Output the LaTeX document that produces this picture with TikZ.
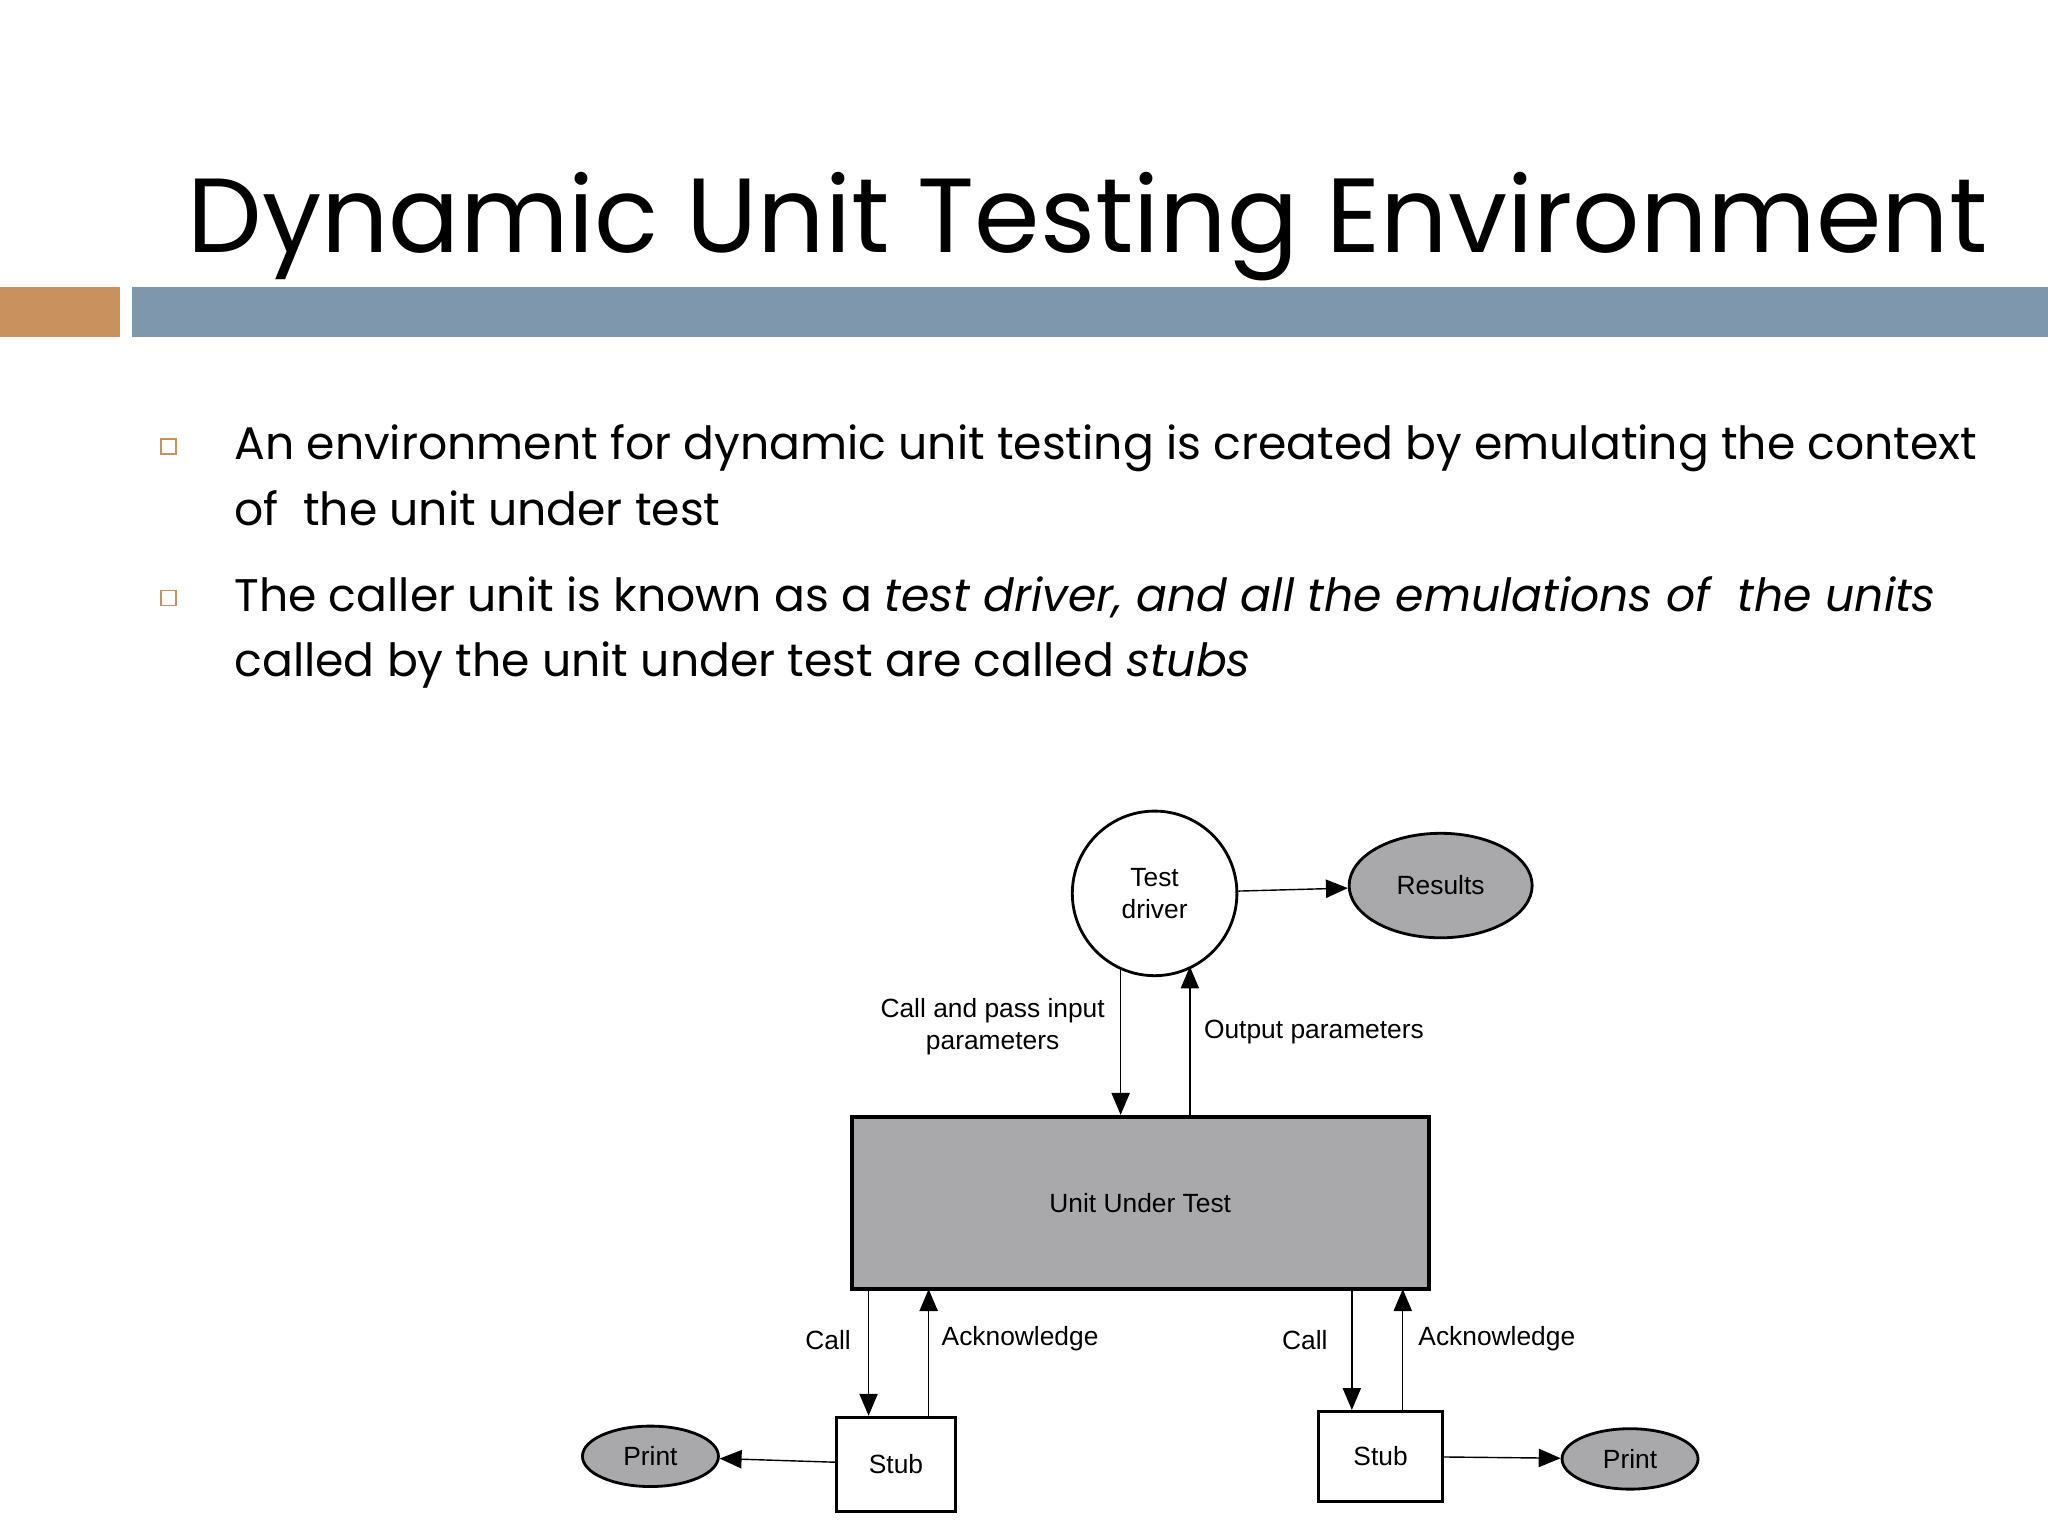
\documentclass[tikz,border=0pt]{standalone}
\usepackage{fontspec}
\setmainfont{Poppins}
\newfontfamily\diagfont{Liberation Sans}
\usetikzlibrary{shapes.geometric, arrows, positioning}
\definecolor{barorange}{HTML}{C8915E}
\definecolor{barblue}{HTML}{7F97AD}
\definecolor{boxgray}{HTML}{A9A9AB}
\begin{document}
\begin{tikzpicture}[x=0.013061cm, y=-0.013061cm]
    \tikzstyle{title}    = [anchor=base west, inner sep=0, font=\fontsize{30}{36}\selectfont]
    \tikzstyle{bullet}   = [anchor=base west, inner sep=0, font=\fontsize{13}{16}\selectfont]
    \tikzstyle{label}    = [font=\diagfont\fontsize{7.5}{9}\selectfont, align=center, inner sep=1pt]
    \tikzstyle{oval}     = [ellipse, draw=black, thick, fill=boxgray, font=\diagfont\fontsize{7.5}{9}\selectfont]
    \tikzstyle{stubbox}  = [rectangle, draw=black, thick, fill=white, font=\diagfont\fontsize{7.5}{9}\selectfont]
    \tikzstyle{arrow}    = [->,>=triangle 45, thin]
    \useasboundingbox (0,0) rectangle (1568,1176);

    % Heading
    \node [title] (heading) at (143,193) {Dynamic Unit Testing Environment};
    \fill [barorange] (0,220) rectangle (92,258);
    \fill [barblue] (101,220) rectangle (1568,258);

    % Bullets
    \node [draw=barorange, fill=white, minimum size=0.15cm, inner sep=0] (b1) at (129,342) {};
    \node [draw=barorange, fill=white, minimum size=0.15cm, inner sep=0] (b2) at (129,458) {};
    \node [bullet] (l1) at (179,352) {An environment for dynamic unit testing is created by emulating the context};
    \node [bullet] (l2) at (179,402) {of~ the unit under test};
    \node [bullet] (l3) at (179,468) {The caller unit is known as a \textit{test driver, and all the emulations of~ the units}};
    \node [bullet] (l4) at (179,518) {called by the unit under test are called \textit{stubs}};

    % Diagram nodes
    \node [circle, draw=black, thick, fill=white, minimum size=1.646cm, align=center, font=\diagfont\fontsize{7.5}{9}\selectfont] (driver) at (884,684) {Test\\driver};
    \node [oval, minimum width=1.83cm, minimum height=1.045cm] (results) at (1103,678) {Results};
    \node [rectangle, draw=black, very thick, fill=boxgray, minimum width=5.77cm, minimum height=1.72cm, font=\diagfont\fontsize{7.5}{9}\selectfont] (uut) at (873,921) {Unit Under Test};
    \node [stubbox, minimum width=1.19cm, minimum height=0.94cm] (stubl) at (686,1121) {Stub};
    \node [stubbox, minimum width=1.24cm, minimum height=0.9cm] (stubr) at (1057,1115) {Stub};
    \node [oval, minimum width=1.36cm, minimum height=0.575cm] (printl) at (498,1115) {Print};
    \node [oval, minimum width=1.36cm, minimum height=0.575cm] (printr) at (1248,1117) {Print};

    % Labels
    \node [label] (callpass) at (760,786) {Call and pass input\\parameters};
    \node [label] (outpar) at (1006,790) {Output parameters};
    \node [label] (calll) at (634,1026) {Call};
    \node [label] (ackl) at (781,1025) {Acknowledge};
    \node [label] (callr) at (999,1026) {Call};
    \node [label] (ackr) at (1146,1025) {Acknowledge};

    % Arrows
    \coordinate (dn) at (858,741);
    \coordinate (up) at (911,740);
    \coordinate (ldn) at (665,987);
    \coordinate (lup) at (711,987);
    \coordinate (rdn) at (1035,987);
    \coordinate (rup) at (1074,987);
    \draw [arrow] (driver) -- (results);
    \draw [arrow] (dn) -- (dn |- uut.north);
    \draw [arrow] (up |- uut.north) -- (up);
    \draw [arrow] (ldn) -- (ldn |- stubl.north);
    \draw [arrow] (lup |- stubl.north) -- (lup);
    \draw [arrow] (rdn) -- (rdn |- stubr.north);
    \draw [arrow] (rup |- stubr.north) -- (rup);
    \draw [arrow] (stubl) -- (printl);
    \draw [arrow] (stubr) -- (printr);

\end{tikzpicture}
\end{document}
